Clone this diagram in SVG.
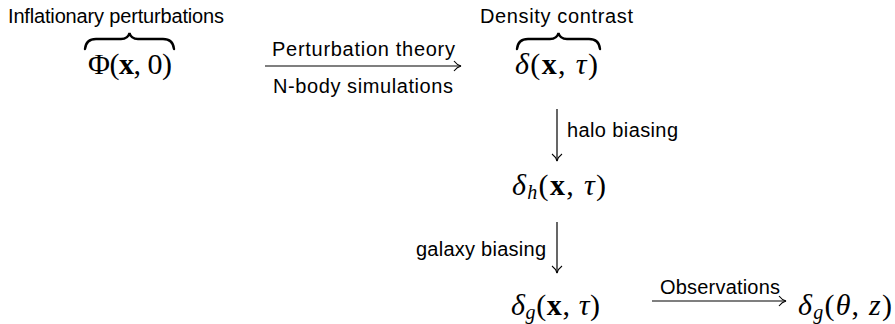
<svg xmlns="http://www.w3.org/2000/svg" width="895" height="324" viewBox="0 0 895 324">
<style>
.lbl{font-family:"Liberation Sans","DejaVu Sans",sans-serif;font-size:20px;fill:#000}
.m{font-family:"Liberation Serif","DejaVu Serif",serif;font-size:30px;fill:#000}
.i{font-style:italic}
.b{font-weight:bold}
.sub{font-size:20px;font-style:italic}
.ln{stroke:#000;stroke-width:1.2;fill:none}
.brace{stroke:#000;stroke-width:2.4;fill:none;stroke-linecap:round}
</style>
<defs>
<marker id="ah" markerWidth="12" markerHeight="12" refX="9" refY="6" orient="auto" markerUnits="userSpaceOnUse">
<path d="M2,1 Q5,5 9,6 Q5,7 2,11" fill="none" stroke="#000" stroke-width="1.1"/>
</marker>
</defs>
<g id="phi">
<text class="lbl" x="8" y="23" textLength="216">Inflationary perturbations</text>
<path class="brace" d="M85,49 Q86,39 96,39 L121,39 Q128,39 129.5,33 Q131,39 138,39 L163,39 Q173,39 174,49"/>
<text class="m" x="88" y="74" textLength="84">Φ(<tspan class="b">x</tspan>, 0)</text>
</g>
<g id="delta">
<text class="lbl" x="480" y="23" textLength="153">Density contrast</text>
<path class="brace" d="M517,49 Q518,39 528,39 L550,39 Q557,39 558.5,33 Q560,39 567,39 L589,39 Q599,39 600,49"/>
<text class="m" x="515" y="74" textLength="83"><tspan class="i">δ</tspan>(<tspan class="b">x</tspan>, <tspan class="i">τ</tspan>)</text>
</g>
<g id="deltah">
<text class="m" x="512" y="195" textLength="94"><tspan class="i">δ</tspan><tspan class="sub" dy="4">h</tspan><tspan dy="-4">(</tspan><tspan class="b">x</tspan>, <tspan class="i">τ</tspan>)</text>
</g>
<g id="deltag">
<text class="m" x="511" y="315" textLength="89"><tspan class="i">δ</tspan><tspan class="sub" dy="4">g</tspan><tspan dy="-4">(</tspan><tspan class="b">x</tspan>, <tspan class="i">τ</tspan>)</text>
</g>
<g id="deltaobs">
<text class="m" x="798" y="315" textLength="94"><tspan class="i">δ</tspan><tspan class="sub" dy="4">g</tspan><tspan dy="-4">(</tspan><tspan class="i">θ</tspan>, <tspan class="i">z</tspan>)</text>
</g>
<g id="connectors">
<line class="ln" x1="265" y1="66" x2="461" y2="66" marker-end="url(#ah)"/>
<text class="lbl" x="272" y="56" textLength="183">Perturbation theory</text>
<text class="lbl" x="273" y="93" textLength="180">N-body simulations</text>
<line class="ln" x1="557" y1="109" x2="557" y2="161" marker-end="url(#ah)"/>
<text class="lbl" x="567" y="137" textLength="111">halo biasing</text>
<line class="ln" x1="557" y1="222" x2="557" y2="273" marker-end="url(#ah)"/>
<text class="lbl" x="416" y="256" textLength="130">galaxy biasing</text>
<line class="ln" x1="652" y1="301" x2="786" y2="301" marker-end="url(#ah)"/>
<text class="lbl" x="660" y="294" textLength="120">Observations</text>
</g>
</svg>
